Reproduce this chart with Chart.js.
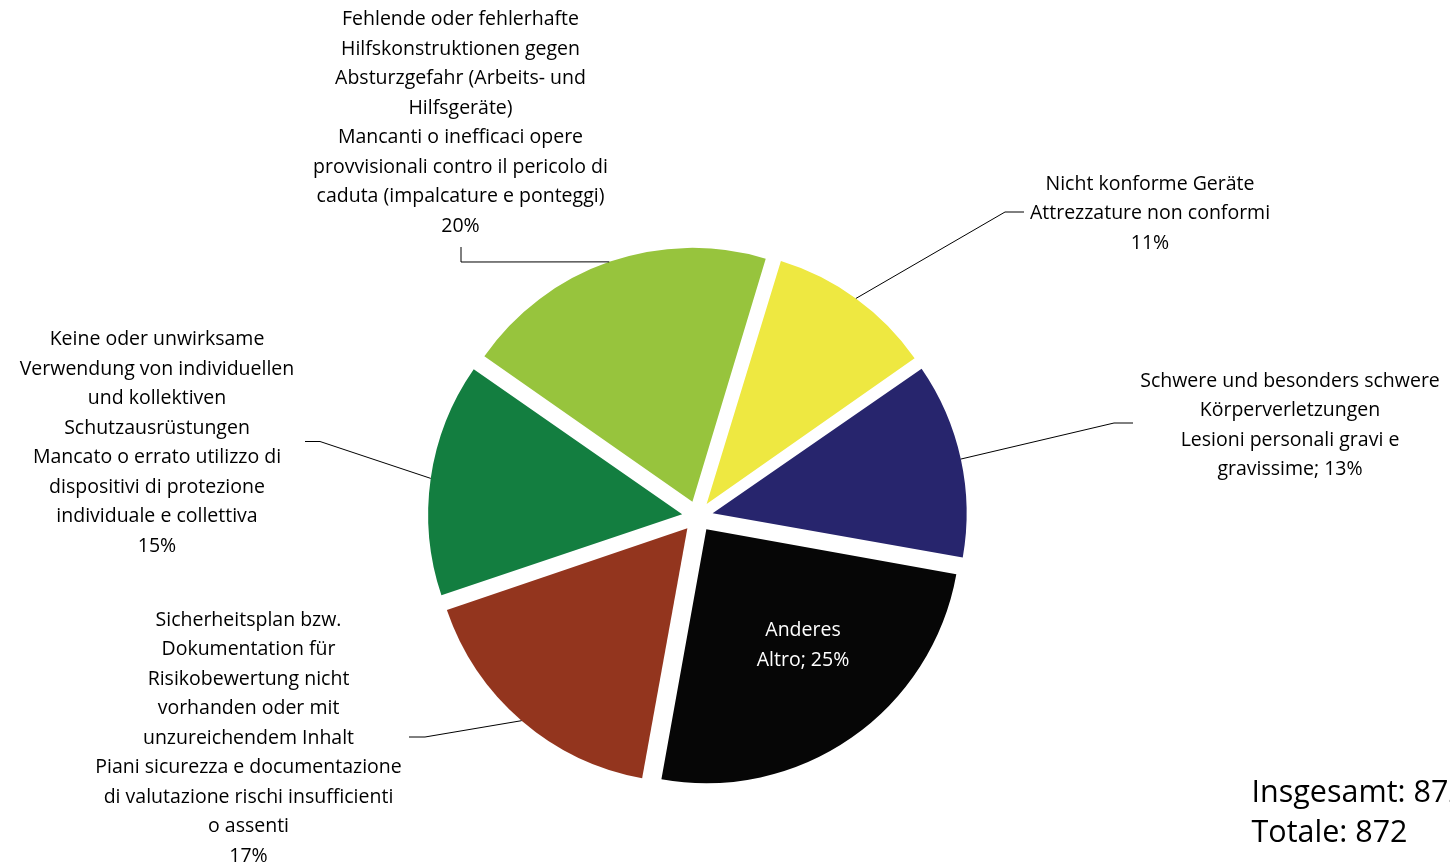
<!DOCTYPE html>
<html>
<head>
<meta charset="utf-8">
<script src="https://cdn.jsdelivr.net/npm/chart.js@4.4.1/dist/chart.umd.min.js"></script>
<style>
  html, body { margin: 0; padding: 0; background: #ffffff; overflow: hidden; }
  #wrap { width: 1450px; height: 862px; position: relative; }
</style>
</head>
<body>
<div id="wrap"><canvas id="chart" width="1450" height="862"></canvas></div>
<script>
// ---------- DATA ----------
const categories = [
  'Nicht konforme Geräte / Attrezzature non conformi',
  'Schwere und besonders schwere Körperverletzungen / Lesioni personali gravi e gravissime',
  'Anderes / Altro',
  'Sicherheitsplan bzw. Dokumentation für Risikobewertung nicht vorhanden oder mit unzureichendem Inhalt / Piani sicurezza e documentazione di valutazione rischi insufficienti o assenti',
  'Keine oder unwirksame Verwendung von individuellen und kollektiven Schutzausrüstungen / Mancato o errato utilizzo di dispositivi di protezione individuale e collettiva',
  'Fehlende oder fehlerhafte Hilfskonstruktionen gegen Absturzgefahr (Arbeits- und Hilfsgeräte) / Mancanti o inefficaci opere provvisionali contro il pericolo di caduta (impalcature e ponteggi)'
];
const counts = [93, 109, 218, 148, 130, 174];
const percentLabels = ['11%', '13%', '25%', '17%', '15%', '20%'];
const labelLines = [
  ['Nicht konforme Geräte', 'Attrezzature non conformi', '11%'],
  ['Schwere und besonders schwere', 'Körperverletzungen', 'Lesioni personali gravi e', 'gravissime; 13%'],
  ['Anderes', 'Altro; 25%'],
  ['Sicherheitsplan bzw.', 'Dokumentation für', 'Risikobewertung nicht', 'vorhanden oder mit',
   'unzureichendem Inhalt', 'Piani sicurezza e documentazione', 'di valutazione rischi insufficienti',
   'o assenti', '17%'],
  ['Keine oder unwirksame', 'Verwendung von individuellen', 'und kollektiven', 'Schutzausrüstungen',
   'Mancato o errato utilizzo di', 'dispositivi di protezione', 'individuale e collettiva', '15%'],
  ['Fehlende oder fehlerhafte', 'Hilfskonstruktionen gegen', 'Absturzgefahr (Arbeits- und',
   'Hilfsgeräte)', 'Mancanti o inefficaci opere', 'provvisionali contro il pericolo di',
   'caduta (impalcature e ponteggi)', '20%']
];
const totalLines = ['Insgesamt: 872', 'Totale: 872'];

// ---------- STYLE / LAYOUT ----------
const sliceColors = ['#EEE841', '#27256D', '#060606', '#93351E', '#137E40', '#97C43D'];
const FONT = '"Open Sans", "Noto Sans", sans-serif';
const RADIUS = 254;
const OFFSET = 62;          // Chart.js v4 translates arcs by offset/4
const LINE_H = 29.5;
// label placement (text centre x, first baseline y, leader knee, leader end, colour)
const labelLayout = [
  { cx: 1150,  y0: 189.5, knee: [1005, 212],   end: [1024, 212],   color: '#000000' },
  { cx: 1290,  y0: 386.5, knee: [1114, 423],   end: [1133, 423],   color: '#000000' },
  { cx: 803,   y0: 636,   knee: null,          end: null,          color: '#ffffff' },
  { cx: 248.5, y0: 625.5, knee: [425, 737],    end: [409, 737],    color: '#000000' },
  { cx: 157,   y0: 345,   knee: [320, 441.5],  end: [305, 441.5],  color: '#000000' },
  { cx: 460.5, y0: 25,    knee: [461, 262],    end: [461, 247],    color: '#000000' }
];
const totalLayout = { x: 1251.5, y0: 801.5, lineH: 40, size: 30.5 };

// keep every slice at the same outer radius (Excel-style explode)
const equalRadius = {
  id: 'equalRadius',
  afterDatasetsUpdate(chart) {
    const meta = chart.getDatasetMeta(0);
    meta.data.forEach(arc => {
      const off = (arc.options.offset || 0) / 4;
      const circ = arc.endAngle - arc.startAngle;
      const fix = 1 - Math.sin(Math.min(Math.PI, circ));
      arc.outerRadius = RADIUS - off * fix;
    });
  }
};

const labelsPlugin = {
  id: 'sliceLabels',
  afterDraw(chart) {
    const ctx = chart.ctx;
    const meta = chart.getDatasetMeta(0);
    ctx.save();
    meta.data.forEach((arc, i) => {
      const L = labelLayout[i];
      const off = (arc.options.offset || 0) / 4;
      const mid = (arc.startAngle + arc.endAngle) / 2;
      const tx = arc.x + Math.cos(mid) * off;
      const ty = arc.y + Math.sin(mid) * off;
      if (L.knee) {
        const px = tx + Math.cos(mid) * RADIUS;
        const py = ty + Math.sin(mid) * RADIUS;
        ctx.beginPath();
        ctx.moveTo(px, py);
        ctx.lineTo(L.knee[0], L.knee[1]);
        ctx.lineTo(L.end[0], L.end[1]);
        ctx.strokeStyle = '#000000';
        ctx.lineWidth = 1;
        ctx.stroke();
      }
      ctx.fillStyle = L.color;
      ctx.font = '19.5px ' + FONT;
      ctx.textAlign = 'center';
      ctx.textBaseline = 'alphabetic';
      labelLines[i].forEach((t, k) => ctx.fillText(t, L.cx, L.y0 + k * LINE_H));
    });
    ctx.fillStyle = '#000000';
    ctx.font = totalLayout.size + 'px ' + FONT;
    ctx.textAlign = 'left';
    totalLines.forEach((t, k) => ctx.fillText(t, totalLayout.x, totalLayout.y0 + k * totalLayout.lineH));
    ctx.restore();
  }
};

new Chart(document.getElementById('chart'), {
  type: 'pie',
  data: {
    labels: categories,
    datasets: [{
      data: counts,
      backgroundColor: sliceColors,
      borderWidth: 0,
      offset: OFFSET,
      hoverOffset: OFFSET,
      radius: RADIUS
    }]
  },
  options: {
    responsive: false,
    animation: false,
    devicePixelRatio: 1,
    rotation: 16.8,
    radius: RADIUS,
    layout: { padding: { left: 0, right: 55, top: 171, bottom: 0 } },
    events: [],
    plugins: {
      legend: { display: false },
      tooltip: { enabled: false },
      title: { display: false }
    }
  },
  plugins: [equalRadius, labelsPlugin]
});
</script>
</body>
</html>
